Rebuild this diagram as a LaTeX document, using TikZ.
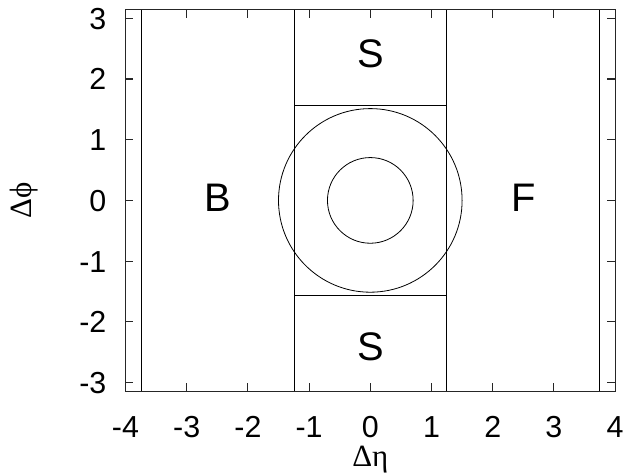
\documentclass[tikz,border=0pt]{standalone}
\usepackage{fontspec}
\setmainfont{Liberation Sans}
\newfontfamily\greekfont{Liberation Serif}
\begin{document}
\begin{tikzpicture}[x=61.2bp,y=60.7bp,
  frame/.style={draw=black!85,line width=1.1bp},
  region/.style={draw=black,line width=0.8bp},
  ticklab/.style={font=\fontsize{30.5}{30.5}\selectfont,inner sep=0pt},
  axlab/.style={font=\fontsize{31}{31}\selectfont\greekfont,inner sep=0pt},
  biglab/.style={font=\fontsize{40}{40}\selectfont,inner sep=0pt,anchor=base,yshift=-14.3bp}]
\useasboundingbox (-6.0507,-4.5074) rectangle (4.1454,3.3015);
% frame
\draw[frame] (-4,-3.1416) rectangle (4,3.1416);
% ticks
\foreach \x in {-4,...,4}{
  \draw[frame] (\x,-3.1416) -- ++(0,0.13);
  \draw[frame] (\x,3.1416) -- ++(0,-0.13);
  \node[ticklab,anchor=base] at (\x,-3.90) {\x};
}
\foreach \y in {-3,...,3}{
  \draw[frame] (-4,\y) -- ++(0.13,0);
  \draw[frame] (4,\y) -- ++(-0.13,0);
  \node[ticklab,anchor=base east,yshift=-10.9bp] at (-4.31,\y) {\y};
}
% regions
\coordinate (bl) at (-3.74,-3.1416);
\coordinate (bt) at (-3.74,3.1416);
\coordinate (fl) at (3.74,-3.1416);
\coordinate (ft) at (3.74,3.1416);
\draw[region] (bl) -- (bt);
\draw[region] (fl) -- (ft);
\draw[region] (-1.24,-3.1416) -- (-1.24,3.1416);
\draw[region] (1.24,-3.1416) -- (1.24,3.1416);
\draw[region] (-1.24,1.5708) -- (1.24,1.5708);
\draw[region] (-1.24,-1.5708) -- (1.24,-1.5708);
\coordinate (c) at (0,0);
\draw[region] (c) ellipse [x radius=1.5, y radius=1.5*61.2/60.7];
\draw[region] (c) ellipse [x radius=0.7, y radius=0.7*61.2/60.7];
% labels
\node[biglab] (B) at (-2.49,0.05) {B};
\node[biglab] (F) at (2.5,0.05) {F};
\node[biglab] (S1) at (0,2.43) {S};
\node[biglab] (S2) at (0,-2.40) {S};
\node[axlab,anchor=base] (xl) at (0,-4.376) {Δη};
\node[axlab,anchor=base,rotate=90] (yl) at (-5.53,0) {Δϕ};
\end{tikzpicture}
\end{document}
